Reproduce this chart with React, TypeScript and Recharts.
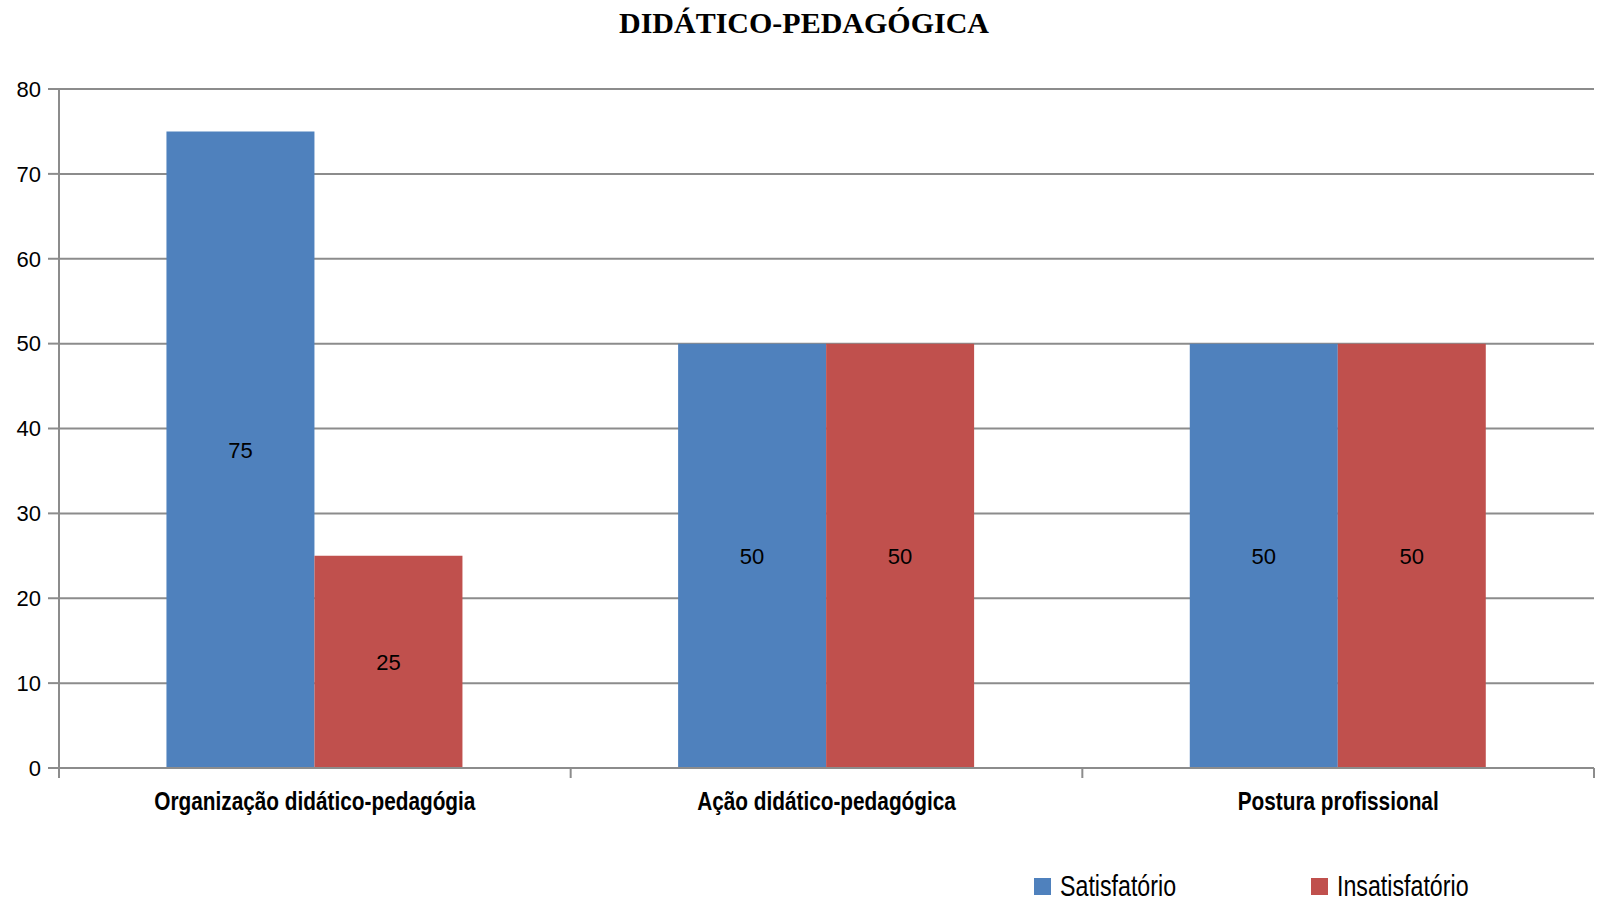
import React from 'react';
import { BarChart, Bar, XAxis, YAxis, CartesianGrid, Legend, LabelList } from 'recharts';

const categories = ['Organização didático-pedagógia', 'Ação didático-pedagógica', 'Postura profissional'];
const satisfatorio = [75, 50, 50];
const insatisfatorio = [25, 50, 50];
const yTicks = [0, 10, 20, 30, 40, 50, 60, 70, 80];

const BLUE = '#4F81BD';
const RED = '#C0504D';
const AXIS = '#8c8c8c';
const SANS = '"Liberation Sans", Arial, sans-serif';

const W = 1598;
const H = 902;
const MARGIN = { top: 89, right: 4, left: 0, bottom: 0 };
const Y_AXIS_W = 59;
const BAND = (W - MARGIN.left - MARGIN.right - Y_AXIS_W) / categories.length;

const data = categories.map((name, i) => ({
  name,
  Satisfatório: satisfatorio[i],
  Insatisfatório: insatisfatorio[i],
}));

// narrow bold label (no Arial Narrow installed, so squeeze horizontally)
// plus the Excel-style tick marks between categories
const CategoryTick = (props: any) => {
  const { x, y, payload, index } = props;
  const isLast = index === categories.length - 1;
  return (
    <g>
      <line x1={x - BAND / 2} x2={x - BAND / 2} y1={y} y2={y + 10} stroke={AXIS} strokeWidth={2} />
      {isLast && (
        <line x1={x + BAND / 2} x2={x + BAND / 2} y1={y} y2={y + 10} stroke={AXIS} strokeWidth={2} />
      )}
      <g transform={`translate(${x},${y + 33}) scale(0.8,1)`}>
        <text x={0} y={0} textAnchor="middle" dominantBaseline="central"
          fontFamily={SANS} fontWeight="bold" fontSize={26} fill="#000">
          {payload.value}
        </text>
      </g>
    </g>
  );
};

const LegendContent = () => {
  const items = [
    { label: 'Satisfatório', color: BLUE },
    { label: 'Insatisfatório', color: RED },
  ];
  return (
    <div style={{ height: 40, width: W, position: 'relative' }}>
      {items.map((it, i) => (
        <div key={it.label} style={{
          position: 'absolute', left: 1034 + i * 277, top: 8, height: 32,
          display: 'flex', alignItems: 'center',
        }}>
          <span style={{ width: 17, height: 17, background: it.color, display: 'inline-block', marginRight: 9 }} />
          <span style={{
            fontFamily: SANS, fontSize: 29, color: '#000', display: 'inline-block',
            transform: 'scaleX(0.8)', transformOrigin: 'left center', whiteSpace: 'nowrap',
          }}>{it.label}</span>
        </div>
      ))}
    </div>
  );
};

export default function App() {
  return (
    <div style={{ position: 'absolute', left: 0, top: 0, width: W, height: H, background: '#fff' }}>
      <div style={{
        position: 'absolute', left: 0, top: 7, width: 1608, textAlign: 'center',
        fontFamily: '"Liberation Serif", "Times New Roman", serif', fontWeight: 'bold', fontSize: 30,
        color: '#000', lineHeight: '32px',
      }}>
        DIDÁTICO-PEDAGÓGICA
      </div>
      <BarChart width={W} height={H} data={data} margin={MARGIN} barCategoryGap="21%" barGap={0}>
        <CartesianGrid vertical={false} stroke={AXIS} strokeWidth={2} />
        <XAxis dataKey="name" height={94} axisLine={{ stroke: AXIS, strokeWidth: 2 }} tickLine={false}
          tickSize={0} tickMargin={0} tick={<CategoryTick />} interval={0} />
        <YAxis width={Y_AXIS_W} domain={[0, 80]} ticks={yTicks} tickSize={11} tickMargin={7}
          axisLine={{ stroke: AXIS, strokeWidth: 2 }} tickLine={{ stroke: AXIS, strokeWidth: 2 }}
          tick={{ fill: '#000', fontSize: 22, fontFamily: SANS }} />
        <Legend verticalAlign="bottom" content={<LegendContent />} />
        <Bar dataKey="Satisfatório" fill={BLUE} isAnimationActive={false}>
          <LabelList dataKey="Satisfatório" position="center" fill="#000" fontSize={22} fontFamily={SANS} />
        </Bar>
        <Bar dataKey="Insatisfatório" fill={RED} isAnimationActive={false}>
          <LabelList dataKey="Insatisfatório" position="center" fill="#000" fontSize={22} fontFamily={SANS} />
        </Bar>
      </BarChart>
    </div>
  );
}
